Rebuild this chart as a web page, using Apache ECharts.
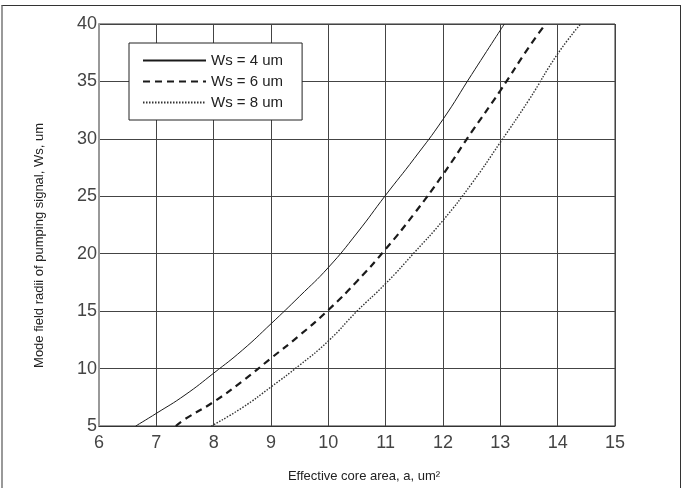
<!DOCTYPE html>
<html>
<head>
<meta charset="utf-8">
<script src="https://cdn.jsdelivr.net/npm/echarts@6/dist/echarts.min.js"></script>
<style>
  html, body { margin: 0; padding: 0; background: #fff; }
  #wrap { position: relative; width: 682px; height: 488px; }
  #chart { position: absolute; left: 0; top: 0; width: 682px; height: 488px; }
  #frame {
    position: absolute; left: 1px; top: 5px; width: 677px; height: 490px;
    border-top: 1px solid #333; border-left: 2px solid #999; border-right: 1px solid #333;
    pointer-events: none;
  }
</style>
</head>
<body>
<div id="wrap">
  <div id="chart"></div>
  <div id="frame"></div>
</div>
<script>
// values: [effective core area, mode field radius]
const seriesNames = ["Ws = 4 um", "Ws = 6 um", "Ws = 8 um"];
const ws4 = [[6.64, 5], [7, 6.1], [7.5, 7.7], [8, 9.6], [8.5, 11.6], [9, 13.9], [9.5, 16.3],
  [10, 18.8], [10.5, 21.8], [11, 25.1], [11.5, 28.3], [12, 31.7], [12.5, 35.6], [13.07, 40]];
const ws6 = [[7.34, 5], [7.5, 5.6], [8, 7.1], [8.5, 8.9], [9, 10.9], [9.5, 12.9], [10, 15.1],
  [10.5, 17.6], [11, 20.4], [11.5, 23.5], [12, 26.9], [12.5, 30.6], [13, 34.2], [13.5, 38.0], [13.79, 40]];
const ws8 = [[7.96, 5], [8.5, 6.6], [9, 8.4], [9.5, 10.3], [10, 12.4], [10.5, 15.0], [11, 17.4],
  [11.5, 20.1], [12, 22.9], [12.5, 26.1], [13, 29.7], [13.5, 33.4], [14, 37.4], [14.4, 40]];
const xRange = [6, 15];
const yRange = [5, 40];

const chart = echarts.init(document.getElementById("chart"));
const lineColor = "#1a1a1a";
const labelColor = "#444";
const font = "Liberation Sans, Arial";

const option = {
  animation: false,
  backgroundColor: "#fff",
  grid: {
    left: 99, right: 67, top: 24, bottom: 57,
    show: true, borderColor: "#333", borderWidth: 1
  },
  legend: {
    orient: "vertical",
    left: 129,
    top: 43,
    padding: [10, 19, 10, 13],
    itemWidth: 63,
    itemHeight: 14,
    itemGap: 6,
    backgroundColor: "#fff",
    borderColor: "#222",
    borderWidth: 1,
    borderRadius: 0,
    itemStyle: { opacity: 0 },
    textStyle: { fontFamily: font, fontSize: 15, color: "#222" },
    data: seriesNames
  },
  xAxis: {
    type: "value",
    min: xRange[0],
    max: xRange[1],
    interval: 1,
    axisLine: { show: true, lineStyle: { color: "#333" } },
    axisTick: { show: false },
    axisLabel: { color: labelColor, fontSize: 18, fontFamily: font, margin: 8 },
    splitLine: { show: true, lineStyle: { color: "#444", width: 1 } },
    name: "Effective core area, a, um²",
    nameLocation: "middle",
    nameGap: 44,
    nameTextStyle: { color: "#222", fontSize: 13, fontFamily: font, padding: [0, 0, 0, 14] }
  },
  yAxis: {
    type: "value",
    min: yRange[0],
    max: yRange[1],
    interval: 5,
    axisLine: { show: true, lineStyle: { color: "#999", width: 2 } },
    axisTick: { show: false },
    axisLabel: { color: labelColor, fontSize: 18, fontFamily: font, margin: 2 },
    splitLine: { show: true, lineStyle: { color: "#444", width: 1 } }
  },
  graphic: [{
    type: "text",
    left: 33,
    top: 123,
    rotation: Math.PI / 2,
    style: {
      text: "Mode field radii of pumping signal, Ws, um",
      fill: "#222",
      fontSize: 13,
      fontFamily: font
    }
  }],
  series: [
    {
      name: seriesNames[0], type: "line", data: ws4, smooth: true,
      showSymbol: false, symbol: "none",
      lineStyle: { color: lineColor, width: 1, type: "solid" },
      itemStyle: { color: lineColor }
    },
    {
      name: seriesNames[1], type: "line", data: ws6, smooth: true,
      showSymbol: false, symbol: "none",
      lineStyle: { color: lineColor, width: 2.2, type: [7, 5] },
      itemStyle: { color: lineColor }
    },
    {
      name: seriesNames[2], type: "line", data: ws8, smooth: true,
      showSymbol: false, symbol: "none",
      lineStyle: { color: "#333", width: 1.4, type: [1.5, 1.5] },
      itemStyle: { color: "#333" }
    }
  ]
};

chart.setOption(option);
</script>
</body>
</html>
